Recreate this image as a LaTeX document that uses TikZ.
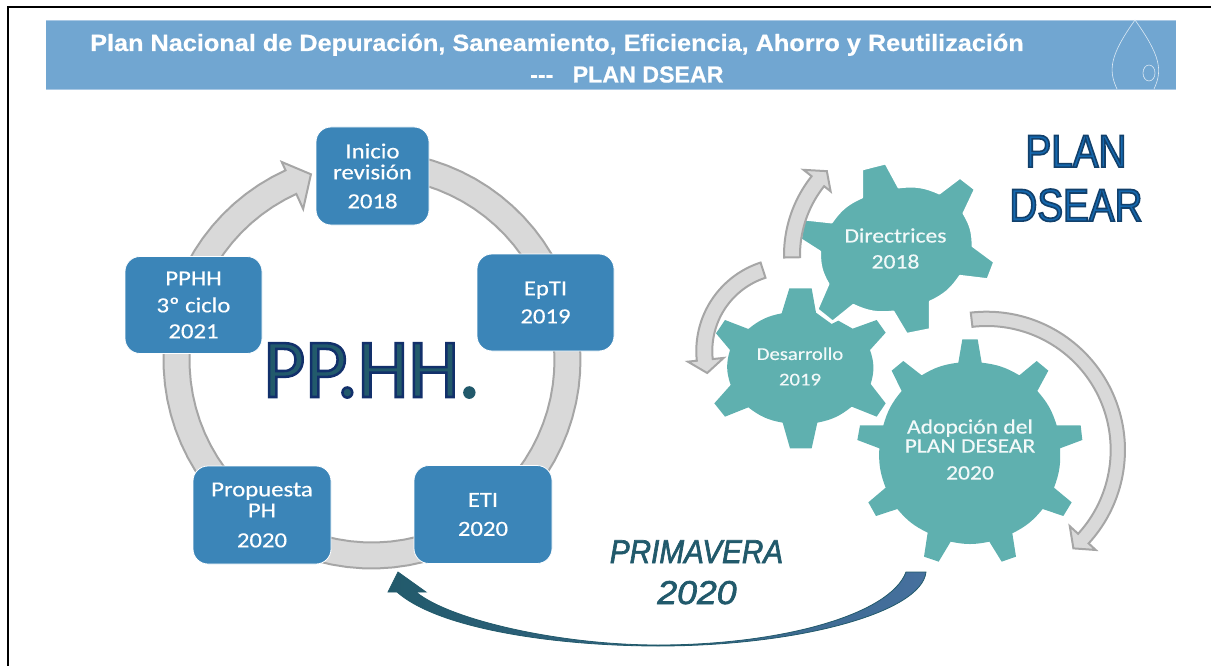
\documentclass[tikz,border=0pt]{standalone}
\usepackage{fontspec}
\setmainfont{Carlito}
\newfontfamily\boxf[FakeStretch=1.15,FakeBold=0.35]{Carlito}
\newfontfamily\titlef[FakeBold=0.7]{Liberation Sans Bold}
\newfontfamily\titlew[FakeStretch=1.075,FakeBold=0.7]{Liberation Sans Bold}
\newfontfamily\planf[FakeStretch=0.84,FakeBold=3.5]{Liberation Sans}
\newfontfamily\pphf[FakeStretch=0.97,FakeBold=3]{Carlito}
\newfontfamily\primf[FakeStretch=0.9,FakeBold=2]{Liberation Sans Italic}
\newfontfamily\primg[FakeStretch=1.08,FakeBold=2]{Liberation Sans Italic}
\definecolor{bluebox}{HTML}{3B85B8}
\definecolor{banner}{HTML}{71A6D1}
\definecolor{bannerline}{HTML}{A9C8E4}
\definecolor{gearc}{HTML}{5FB0AF}
\definecolor{greyfill}{HTML}{D9D9D9}
\definecolor{greyline}{HTML}{A6A6A6}
\definecolor{tealdark}{HTML}{225A6B}
\definecolor{bluemid}{HTML}{46709E}
\definecolor{planblue}{HTML}{1568AE}
\tikzset{
  stage/.style={draw=white,line width=0.8pt,fill=bluebox,rounded corners=15pt,inner sep=0pt,
    text=white,align=center,font=\boxf\fontsize{21.5}{22}\selectfont},
  blockshape/.style={fill=greyfill,draw=greyline,line width=2pt,line join=miter},
  gearshape/.style={fill=gearc,line join=round},
  geartext/.style={text=white!92!gearc,align=center,inner sep=0pt},
  bow/.style={bend left=#1}
}
% cx cy rOuter rInner a0 a1 barbIn barbOut tipAngle
\newcommand{\blockarc}[9]{%
  \path[blockshape]
    plot[samples=80,domain=#5:#6,variable=\ang] ({#1+#3*cos(\ang)},{#2-#3*sin(\ang)})
    -- ({#1+#8*cos(#6)},{#2-#8*sin(#6)})
    -- ({#1+(#3+#4)/2*cos(#9)},{#2-(#3+#4)/2*sin(#9)})
    -- ({#1+#7*cos(#6)},{#2-#7*sin(#6)})
    -- plot[samples=80,domain=#6:#5,variable=\ang] ({#1+#4*cos(\ang)},{#2-#4*sin(\ang)})
    -- cycle;}
\begin{document}
\begin{tikzpicture}[x=1pt,y=-1pt]
\useasboundingbox (0,0) rectangle (1211,666);
% frame
\draw[black,line width=2pt] (8,666) -- (8,7.5) -- (1211,7.5);
% banner
\fill[banner] (46,20) rectangle (1176,89.5);
\draw[bannerline,line width=0.8pt] (46,20) -- (1176,20) (46,89.5) -- (1176,89.5);
\draw[white!75!banner,line width=0.6pt] (1117,89) .. controls (1108,70) and (1110,55) .. (1135,20) .. controls (1160,55) and (1163,70) .. (1154,89);
\draw[white!75!banner,line width=0.6pt] (1149,73) ellipse [x radius=6,y radius=8];
\node[anchor=base west,inner sep=0pt,text=white,font=\titlew\fontsize{23.5}{24}\selectfont] (title1) at (90,51) {Plan Nacional de Depuración, Saneamiento, Eficiencia, Ahorro y Reutilización};
\node[anchor=base west,inner sep=0pt,text=white,font=\titlef\fontsize{23.2}{24}\selectfont] (title2) at (530,82.5) {---\ \ \ PLAN DSEAR};
% ring
\blockarc{372}{360}{208.5}{182.5}{90}{-245.5}{166}{217.6}{-251.8}
% stage boxes
\node[stage,minimum width=113pt,minimum height=98pt] (inicio) at (372.5,176) {Inicio\\[-1pt]revisión\\[7pt]2018};
\node[stage,minimum width=137pt,minimum height=97pt] (epti) at (545.5,302.5) {EpTI\\[6pt]2019};
\node[stage,minimum width=137pt,minimum height=97pt] (pphh) at (193.5,305) {PPHH\\[5pt]3º ciclo\\[4pt]2021};
\node[stage,minimum width=138pt,minimum height=98pt] (prop) at (262,515) {Propuesta\\[-1pt]PH\\[8pt]2020};
\node[stage,minimum width=138pt,minimum height=98pt] (eti) at (483,514.5) {ETI\\[7pt]2020};
% centre title
\node[anchor=base west,inner sep=0pt,font=\pphf\fontsize{84}{84}\selectfont,text=tealdark] (pp) at (263,397) {\special{pdf:code 0.07 0.19 0.42 RG}PP.HH\special{pdf:code 0.13 0.35 0.42 RG}.};
% gears
\begin{scope}[x=0.33333pt,y=-0.33333pt,xshift=680pt,yshift=-120pt]
\fill[gearshape] (305,580) -- (328,505) -- (395,505) -- (408,578)
  -- (455,612) -- (475,602) -- (518,626) -- (590,600) -- (617,638) -- (570,690)
  to[bow=18] (572,792) -- (617,850) -- (590,890) -- (515,860)
  to[bow=14] (412,908) -- (395,985) -- (330,985) -- (308,908)
  to[bow=14] (205,862) -- (135,890) -- (103,850) -- (152,795)
  to[bow=18] (150,690) -- (108,640) -- (135,600) -- (205,627)
  to[bow=14] cycle;
\path[gearshape,draw=white,line width=2.2pt] (546,232) -- (546,148) -- (617,130) -- (656,202)
  to[bow=16] (778,220) -- (840,173) -- (885,208) -- (851,280)
  to[bow=16] (878,378) -- (943,426) -- (923,478) -- (840,468)
  to[bow=16] (750,545) -- (750,628) -- (680,642) -- (640,575)
  to[bow=16] (520,555) -- (458,605) -- (412,568) -- (445,492)
  to[bow=16] (420,395) -- (362,358) -- (372,298) -- (455,307)
  to[bow=16] cycle;
\end{scope}
\begin{scope}[x=0.33333pt,y=-0.33333pt,xshift=840pt,yshift=-300pt]
\fill[gearshape] (355,188) -- (367,118) -- (413,118) -- (425,188)
  to[bow=12] (538,226) -- (590,183) -- (625,212) -- (592,273)
  to[bow=12] (650,376) -- (722,376) -- (727,420) -- (660,445)
  to[bow=12] (642,563) -- (695,607) -- (670,648) -- (608,627)
  to[bow=12] (517,700) -- (528,770) -- (485,785) -- (448,725)
  to[bow=12] (332,725) -- (296,785) -- (252,770) -- (263,698)
  to[bow=12] (172,627) -- (108,648) -- (85,607) -- (137,563)
  to[bow=12] (118,445) -- (52,420) -- (60,376) -- (130,376)
  to[bow=12] (185,273) -- (155,212) -- (190,183) -- (245,226)
  to[bow=12] cycle;
\end{scope}
\node[geartext,font=\boxf\fontsize{20.5}{26}\selectfont] (dir) at (895.5,248.5) {Directrices\\2018};
\node[geartext,font=\boxf\fontsize{18}{25.5}\selectfont] (des) at (800,366.5) {Desarrollo\\2019};
\node[geartext,font=\boxf\fontsize{20.5}{19}\selectfont] (ado) at (970,449.5) {Adopción del\\PLAN DESEAR\\[8pt]2020};
% gear arrows
\blockarc{911}{255.3}{127}{111}{181}{141.5}{102.7}{137.3}{135}
\blockarc{789.3}{351}{93}{77}{108}{186}{66}{102}{195}
\blockarc{986.67}{450}{138.3}{124}{96.6}{-42.5}{112.7}{148}{-48.6}
% plan title
\node[inner sep=0pt,align=center,font=\planf\fontsize{46}{54}\selectfont,text=planblue] (plan) at (1076,178.5) {\special{pdf:code 0.07 0.25 0.42 RG}PLAN\\\special{pdf:code 0.07 0.25 0.42 RG}DSEAR};
% primavera
\node[anchor=base,inner sep=0pt,text=tealdark,font=\primf\fontsize{33}{33}\selectfont] (prim) at (696.5,563) {\special{pdf:code 0.13 0.35 0.42 RG}PRIMAVERA};
\node[anchor=base,inner sep=0pt,text=tealdark,font=\primg\fontsize{33}{33}\selectfont] (year) at (697,604) {\special{pdf:code 0.13 0.35 0.42 RG}2020};
% big curved arrow
\path[draw=tealdark,line width=0.8pt,left color=tealdark,middle color=tealdark,right color=bluemid,line join=miter]
  (926,572) .. controls (922,612) and (800,646) .. (658,646)
  .. controls (560,646) and (440,630) .. (397,592)
  -- (388,592) -- (398,572) -- (426,592) -- (416,592)
  .. controls (450,620) and (560,645) .. (658,645)
  .. controls (780,645) and (890,615) .. (906,572) -- cycle;
\end{tikzpicture}
\end{document}
